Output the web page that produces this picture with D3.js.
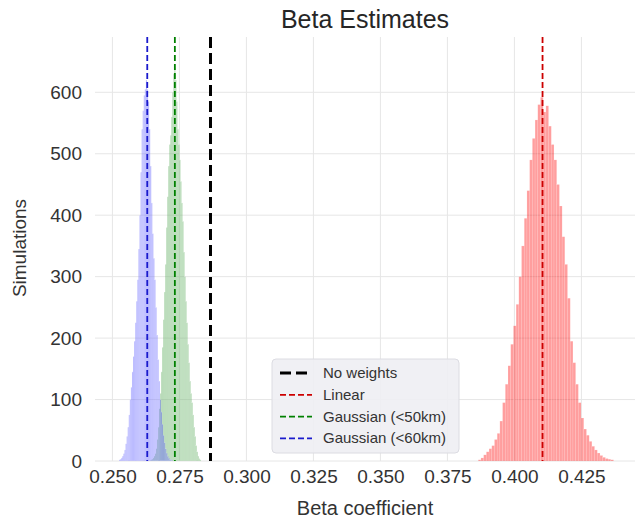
<!DOCTYPE html>
<html>
<head>
<meta charset="utf-8">
<script src="https://cdn.jsdelivr.net/npm/d3@7"></script>
<style>
  body { margin: 0; background: #fff; }
  svg { font-family: "Liberation Sans", Arial, sans-serif; }
</style>
</head>
<body>
<div id="chart"></div>
<script>
// Histogram counts (50 bins per series)
const linearStart = 0.3865, linearWidth = 0.00101;
const linearCounts = [
  2, 5, 10, 15, 20, 25, 35, 45, 65, 95,
  125, 155, 190, 220, 255, 300, 350, 395, 440, 490,
  525, 555, 580, 592, 568, 578, 545, 515, 490, 450,
  415, 365, 320, 265, 195, 160, 125, 95, 70, 52,
  42, 32, 24, 18, 13, 9, 6, 4, 3, 2
];

const gauss50Start = 0.2640, gauss50Width = 0.00038;
const gauss50Counts = [
  1, 2, 3, 5, 8, 12, 20, 35, 55, 85,
  110, 145, 185, 230, 275, 320, 380, 430, 480, 515,
  530, 560, 600, 630, 640, 620, 585, 540, 515, 490,
  455, 420, 390, 340, 300, 260, 225, 190, 160, 130,
  110, 95, 75, 55, 40, 25, 15, 8, 4, 2
];

const gauss60Start = 0.2525, gauss60Width = 0.0004;
const gauss60Counts = [
  2, 3, 5, 8, 12, 18, 28, 40, 55, 75,
  100, 120, 145, 170, 195, 225, 260, 295, 345, 400,
  470, 540, 570, 595, 605, 620, 605, 585, 540, 480,
  420, 370, 330, 295, 250, 205, 165, 130, 100, 80,
  60, 42, 30, 20, 13, 8, 5, 3, 2, 1
];

// Mean estimates (vertical lines)
const lineNames = ["No weights", "Linear", "Gaussian (<50km)", "Gaussian (<60km)"];
const lineValues = [0.2866, 0.4105, 0.2733, 0.2630];
const lineColors = ["#000000", "#cc0000", "#008000", "#1a1acc"];

const xTicks = [0.250, 0.275, 0.300, 0.325, 0.350, 0.375, 0.400, 0.425];
const yTicks = [0, 100, 200, 300, 400, 500, 600];

const W = 635, H = 524;
const margin = { top: 37, right: 0, bottom: 63, left: 95 };

const svg = d3.select('#chart')
  .append('svg')
  .attr('width', W)
  .attr('height', H);

const x = d3.scaleLinear()
  .domain([0.2435, 0.4450])
  .range([margin.left, W - margin.right]);

const y = d3.scaleLinear()
  .domain([0, 690])
  .range([H - margin.bottom, margin.top]);

// Grid lines
svg.append('g')
  .selectAll('line.vgrid')
  .data(xTicks)
  .join('line')
  .attr('x1', d => x(d)).attr('x2', d => x(d))
  .attr('y1', margin.top).attr('y2', H - margin.bottom)
  .attr('stroke', '#e6e6e6')
  .attr('stroke-width', 1);

svg.append('g')
  .selectAll('line.hgrid')
  .data(yTicks)
  .join('line')
  .attr('x1', margin.left).attr('x2', W - margin.right)
  .attr('y1', d => y(d)).attr('y2', d => y(d))
  .attr('stroke', '#e6e6e6')
  .attr('stroke-width', 1);

// Histograms
const drawHist = (counts, start, width, fill, opacity) => {
  const bins = counts.map((c, i) => ({ x0: start + i * width, x1: start + (i + 1) * width, c }));
  svg.append('g')
    .selectAll('rect')
    .data(bins)
    .join('rect')
    .attr('x', d => x(d.x0))
    .attr('width', d => x(d.x1) - x(d.x0))
    .attr('y', d => y(d.c))
    .attr('height', d => y(0) - y(d.c))
    .attr('fill', fill)
    .attr('fill-opacity', opacity)
    .attr('stroke', '#ffffff')
    .attr('stroke-opacity', 0.35)
    .attr('stroke-width', 0.4);
};

drawHist(linearCounts, linearStart, linearWidth, '#ff0000', 0.38);
drawHist(gauss50Counts, gauss50Start, gauss50Width, '#008000', 0.33);
drawHist(gauss60Counts, gauss60Start, gauss60Width, '#0000ff', 0.3);

// Vertical dashed lines
svg.append('g')
  .selectAll('line')
  .data(lineValues)
  .join('line')
  .attr('x1', d => x(d)).attr('x2', d => x(d))
  .attr('y1', margin.top).attr('y2', H - margin.bottom)
  .attr('stroke', (d, i) => lineColors[i])
  .attr('stroke-width', (d, i) => i === 0 ? 3 : 1.8)
  .attr('stroke-dasharray', (d, i) => i === 0 ? '11,5' : '6,3');

// Axes (labels only, seaborn style)
const xAxis = svg.append('g')
  .attr('transform', `translate(0,${H - margin.bottom})`)
  .call(d3.axisBottom(x).tickValues(xTicks).tickFormat(d3.format('.3f')).tickSize(0).tickPadding(9));
xAxis.select('.domain').remove();
xAxis.selectAll('text')
  .style('font-size', '19px')
  .attr('fill', '#333');

const yAxis = svg.append('g')
  .attr('transform', `translate(${margin.left},0)`)
  .call(d3.axisLeft(y).tickValues(yTicks).tickSize(0).tickPadding(13));
yAxis.select('.domain').remove();
yAxis.selectAll('text')
  .style('font-size', '19px')
  .attr('fill', '#333');

// Titles
svg.append('text')
  .attr('x', 365).attr('y', 28)
  .attr('text-anchor', 'middle')
  .style('font-size', '25px')
  .attr('fill', '#262626')
  .text('Beta Estimates');

svg.append('text')
  .attr('x', 365).attr('y', 515)
  .attr('text-anchor', 'middle')
  .style('font-size', '20px')
  .attr('fill', '#333')
  .text('Beta coefficient');

svg.append('text')
  .attr('transform', 'translate(26,248) rotate(-90)')
  .attr('text-anchor', 'middle')
  .style('font-size', '19px')
  .attr('fill', '#333')
  .text('Simulations');

// Legend
const legend = svg.append('g').attr('transform', 'translate(272,359)');
legend.append('rect')
  .attr('width', 187).attr('height', 94)
  .attr('rx', 4)
  .attr('fill', '#eeeef3')
  .attr('fill-opacity', 0.9)
  .attr('stroke', '#dcdce2');

lineNames.forEach((name, i) => {
  const ly = 14 + i * 21.8;
  legend.append('line')
    .attr('x1', 8).attr('x2', 40)
    .attr('y1', ly).attr('y2', ly)
    .attr('stroke', lineColors[i])
    .attr('stroke-width', i === 0 ? 3 : 1.8)
    .attr('stroke-dasharray', i === 0 ? '11,5' : '6,3');
  legend.append('text')
    .attr('x', 51).attr('y', ly + 5)
    .style('font-size', '15px')
    .attr('fill', '#333')
    .text(name);
});
</script>
</body>
</html>
